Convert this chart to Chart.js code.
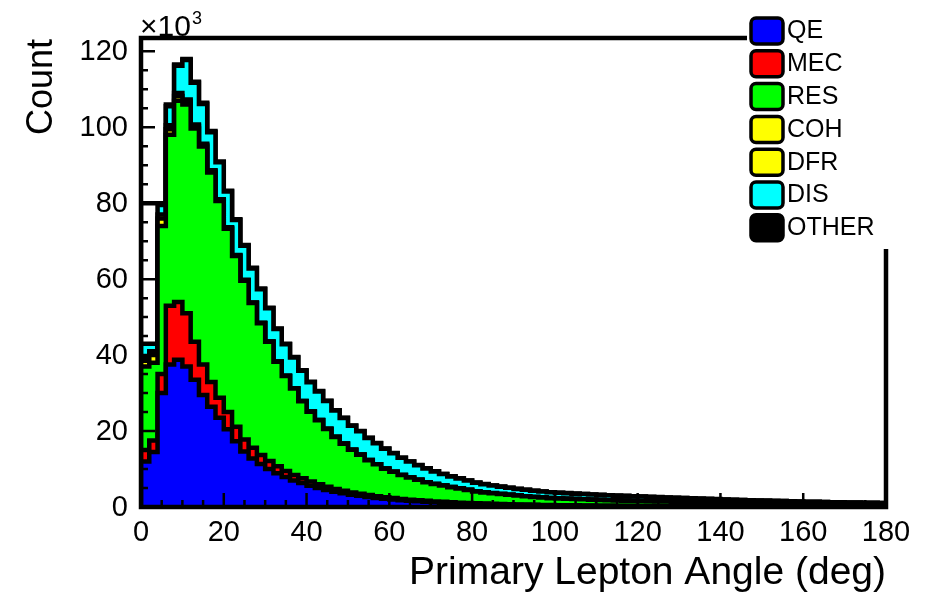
<!DOCTYPE html>
<html>
<head>
<meta charset="utf-8">
<script src="https://cdn.jsdelivr.net/npm/chart.js@4.4.1/dist/chart.umd.min.js"></script>
<style>
  html, body { margin: 0; padding: 0; background: #fff; }
  #wrap { width: 928px; height: 593px; }
</style>
</head>
<body>
<div id="wrap"><canvas id="angleChart" width="928" height="593"></canvas></div>
<script>
// histogram: 90 bins of 2 deg from 0 to 180, counts in units of 10^3
const binWidth = 2;
const xTicks = [0, 20, 40, 60, 80, 100, 120, 140, 160, 180];
const yTicks = [0, 20, 40, 60, 80, 100, 120];
const categories = ['QE', 'MEC', 'RES', 'COH', 'DFR', 'DIS', 'OTHER'];

const qe = [12, 14.5, 30, 37.5, 38.8, 37, 33.5, 29.5, 26.4, 23.5,
  20.5, 17.3, 14.6, 12.8, 11.3, 10, 8.9, 7.9, 7.0, 6.3,
  5.6, 5.0, 4.5, 4.0, 3.6, 3.25, 2.95, 2.65, 2.4, 2.2,
  2.0, 1.8, 1.65, 1.5, 1.38, 1.26, 1.15, 1.05, 0.97, 0.9,
  0.83, 0.77, 0.72, 0.67, 0.62, 0.58, 0.54, 0.5, 0.47, 0.44,
  0.41, 0.39, 0.37, 0.35, 0.33, 0.31, 0.3, 0.28, 0.27, 0.26,
  0.25, 0.24, 0.23, 0.22, 0.21, 0.2, 0.2, 0.19, 0.18, 0.18,
  0.17, 0.17, 0.16, 0.16, 0.15, 0.15, 0.14, 0.14, 0.14, 0.13,
  0.13, 0.13, 0.12, 0.12, 0.12, 0.11, 0.11, 0.11, 0.1, 0.1];

const mec = [3, 3, 5, 15.5, 15.2, 14, 10, 8, 6.5, 5.3,
  4.5, 3.8, 3.2, 2.8, 2.4, 2.1, 1.85, 1.6, 1.4, 1.25,
  1.1, 0.97, 0.86, 0.76, 0.68, 0.6, 0.54, 0.48, 0.43, 0.39,
  0.35, 0.32, 0.29, 0.26, 0.24, 0.22, 0.2, 0.18, 0.17, 0.15,
  0.14, 0.13, 0.12, 0.11, 0.1, 0.09, 0.09, 0.08, 0.08, 0.07,
  0.07, 0.06, 0.06, 0.06, 0.05, 0.05, 0.05, 0.05, 0.04, 0.04,
  0.04, 0.04, 0.04, 0.04, 0.04, 0.04, 0.04, 0.04, 0.04, 0.04,
  0.03, 0.03, 0.03, 0.03, 0.03, 0.03, 0.03, 0.03, 0.03, 0.03,
  0.02, 0.02, 0.02, 0.02, 0.02, 0.02, 0.02, 0.02, 0.02, 0.02];

const res = [22, 20.5, 39, 45, 53, 55, 56.2, 57.4, 55.2, 51.8,
  48.3, 45, 41.8, 38.1, 34.7, 31.4, 27.5, 25, 22.8, 20.3,
  18.4, 16.9, 15.2, 13.7, 12.4, 11.2, 10.3, 9.2, 8.4, 7.5,
  6.9, 6.3, 5.8, 5.4, 4.9, 4.56, 4.3, 4.0, 3.75, 3.45,
  3.1, 2.95, 2.8, 2.65, 2.5, 2.35, 2.2, 2.05, 1.92, 1.82,
  1.75, 1.7, 1.65, 1.6, 1.55, 1.5, 1.45, 1.4, 1.36, 1.32,
  1.28, 1.24, 1.2, 1.16, 1.12, 1.08, 1.04, 1.0, 0.97, 0.94,
  0.91, 0.88, 0.85, 0.82, 0.79, 0.76, 0.74, 0.72, 0.7, 0.68,
  0.66, 0.64, 0.62, 0.6, 0.58, 0.56, 0.54, 0.52, 0.5, 0.48];

const coh = [1.5, 2, 2, 1.5, 1.2, 0.8, 0.6, 0.45, 0.35, 0.25,
  0.2, 0.15, 0.12, 0.1, 0.08, 0.06, 0.05, 0.04, 0.03, 0.03,
  0.02, 0.02, 0.02, 0.02, 0.02, 0.02, 0.02, 0.02, 0.02, 0.02,
  0.01, 0.01, 0.01, 0.01, 0.01, 0.01, 0.01, 0.01, 0.01, 0.01,
  0.01, 0.01, 0.01, 0.01, 0.01, 0.01, 0.01, 0.01, 0.01, 0.01,
  0.01, 0.01, 0.01, 0.01, 0.01, 0.01, 0.01, 0.01, 0.01, 0.01,
  0.01, 0.01, 0.01, 0.01, 0.01, 0.01, 0.01, 0.01, 0.01, 0.01,
  0.01, 0.01, 0.01, 0.01, 0.01, 0.01, 0.01, 0.01, 0.01, 0.01,
  0.01, 0.01, 0.01, 0.01, 0.01, 0.01, 0.01, 0.01, 0.01, 0.01];

const dfr = [1, 1, 1, 1, 0.8, 0.5, 0.4, 0.3, 0.25, 0.2,
  0.15, 0.12, 0.1, 0.08, 0.06, 0.05, 0.04, 0.03, 0.03, 0.02,
  0.02, 0.02, 0.02, 0.02, 0.02, 0.02, 0.02, 0.02, 0.02, 0.02,
  0.01, 0.01, 0.01, 0.01, 0.01, 0.01, 0.01, 0.01, 0.01, 0.01,
  0.01, 0.01, 0.01, 0.01, 0.01, 0.01, 0.01, 0.01, 0.01, 0.01,
  0.01, 0.01, 0.01, 0.01, 0.01, 0.01, 0.01, 0.01, 0.01, 0.01,
  0.01, 0.01, 0.01, 0.01, 0.01, 0.01, 0.01, 0.01, 0.01, 0.01,
  0.01, 0.01, 0.01, 0.01, 0.01, 0.01, 0.01, 0.01, 0.01, 0.01,
  0.01, 0.01, 0.01, 0.01, 0.01, 0.01, 0.01, 0.01, 0.01, 0.01];

const dis = [3.5, 2, 2.5, 5, 7.2, 10.4, 11, 10.5, 10, 9.7,
  9.4, 9.2, 9, 8.9, 8.8, 8.7, 8.5, 8.3, 8.1, 8.0,
  7.7, 7.5, 7.3, 6.9, 6.7, 6.3, 6.1, 5.8, 5.5, 5.2,
  4.9, 4.5, 4.2, 3.8, 3.6, 3.3, 3.0, 2.8, 2.6, 2.45,
  2.3, 2.15, 2.0, 1.9, 1.8, 1.72, 1.66, 1.61, 1.57, 1.53,
  1.5, 1.46, 1.42, 1.38, 1.34, 1.3, 1.27, 1.24, 1.21, 1.18,
  1.15, 1.12, 1.09, 1.06, 1.03, 1.0, 0.97, 0.94, 0.91, 0.88,
  0.85, 0.82, 0.79, 0.76, 0.73, 0.7, 0.67, 0.64, 0.61, 0.58,
  0.56, 0.54, 0.52, 0.5, 0.49, 0.48, 0.47, 0.46, 0.45, 0.44];

const other = [37, 37, 0.5, 0.5, 0.3, 0.3, 0.3, 0.3, 0.28, 0.26,
  0.24, 0.22, 0.2, 0.19, 0.18, 0.17, 0.16, 0.15, 0.14, 0.13,
  0.12, 0.11, 0.1, 0.1, 0.09, 0.09, 0.08, 0.08, 0.07, 0.07,
  0.06, 0.06, 0.05, 0.05, 0.05, 0.04, 0.04, 0.04, 0.04, 0.03,
  0.03, 0.03, 0.03, 0.03, 0.03, 0.03, 0.03, 0.03, 0.03, 0.03,
  0.03, 0.03, 0.03, 0.03, 0.03, 0.03, 0.03, 0.03, 0.03, 0.03,
  0.03, 0.03, 0.03, 0.03, 0.03, 0.03, 0.03, 0.03, 0.03, 0.03,
  0.02, 0.02, 0.02, 0.02, 0.02, 0.02, 0.02, 0.02, 0.02, 0.02,
  0.02, 0.02, 0.02, 0.02, 0.02, 0.02, 0.02, 0.02, 0.02, 0.02];

const fillColors = ['#0000ff', '#ff0000', '#00ff00', '#ffff00', '#ffff00', '#00ffff', '#000000'];
const series = [qe, mec, res, coh, dfr, dis, other];

// running sum, so each layer is drawn as the top of everything below it
const stackTops = [];
let running = qe.map(() => 0);
series.forEach((s) => {
  running = running.map((v, i) => v + s[i]);
  stackTops.push(running);
});

// step outline like a ROOT histogram: up at 0, across every bin, down at 180
const stepPoints = (tops) => {
  const pts = [{ x: 0, y: 0 }];
  tops.forEach((v, i) => pts.push({ x: i * binWidth, y: v }));
  pts.push({ x: tops.length * binWidth, y: tops[tops.length - 1] });
  pts.push({ x: tops.length * binWidth, y: 0 });
  return pts;
};

const FONT = '"Liberation Sans", Arial, Helvetica, sans-serif';

const rootFrame = {
  id: 'rootFrame',
  afterDraw(chart) {
    const { ctx, chartArea: a, scales } = chart;
    const xs = scales.x;
    const ys = scales.y;
    ctx.save();
    ctx.strokeStyle = '#000';
    ctx.fillStyle = '#000';

    // ticks inside the frame
    ctx.lineWidth = 2.5;
    ctx.beginPath();
    for (let v = 0; v <= ys.max; v += 5) {
      const py = ys.getPixelForValue(v);
      const len = v % 20 === 0 ? 14 : 7;
      ctx.moveTo(a.left, py);
      ctx.lineTo(a.left + len, py);
    }
    for (let v = 0; v <= 180; v += 5) {
      const px = xs.getPixelForValue(v);
      const len = v % 20 === 0 ? 14 : 7;
      ctx.moveTo(px, a.bottom);
      ctx.lineTo(px, a.bottom - len);
    }
    ctx.stroke();

    // frame
    ctx.lineWidth = 4.5;
    ctx.lineCap = 'square';
    ctx.beginPath();
    ctx.moveTo(a.right, a.top);
    ctx.lineTo(a.left, a.top);
    ctx.lineTo(a.left, a.bottom);
    ctx.lineTo(a.right, a.bottom);
    ctx.lineTo(a.right, a.top);
    ctx.stroke();

    // tick labels
    ctx.font = '29px ' + FONT;
    ctx.textAlign = 'right';
    ctx.textBaseline = 'middle';
    yTicks.forEach((v) => ctx.fillText(String(v), a.left - 13, ys.getPixelForValue(v) + 1));
    ctx.textAlign = 'center';
    ctx.textBaseline = 'top';
    xTicks.forEach((v) => ctx.fillText(String(v), xs.getPixelForValue(v), a.bottom + 11));

    // axis titles
    ctx.font = '39px ' + FONT;
    ctx.textAlign = 'right';
    ctx.textBaseline = 'alphabetic';
    ctx.fillText('Primary Lepton Angle (deg)', a.right, 584);
    ctx.font = '36px ' + FONT;
    ctx.save();
    ctx.translate(52, 39);
    ctx.rotate(-Math.PI / 2);
    ctx.fillText('Count', 0, 0);
    ctx.restore();

    // exponent
    ctx.textAlign = 'left';
    ctx.font = '30px ' + FONT;
    ctx.fillText('\u00d710', a.left - 1, 36);
    const w = ctx.measureText('\u00d710').width;
    ctx.font = '18px ' + FONT;
    ctx.fillText('3', a.left + w, 24);

    // legend, white box without border over the frame corner
    ctx.fillStyle = '#fff';
    ctx.fillRect(747, 8, 160, 241);
    ctx.textBaseline = 'middle';
    ctx.font = '25px ' + FONT;
    categories.forEach((name, k) => {
      const cy = 30.5 + k * 32.8;
      ctx.beginPath();
      ctx.roundRect(751, cy - 12.5, 32, 26, 5);
      ctx.fillStyle = fillColors[k];
      ctx.fill();
      ctx.lineWidth = 3.5;
      ctx.strokeStyle = '#000';
      ctx.stroke();
      ctx.fillStyle = '#000';
      ctx.fillText(name, 787, cy + 1);
    });
    ctx.restore();
  }
};

const ctx = document.getElementById('angleChart').getContext('2d');
new Chart(ctx, {
  type: 'line',
  data: {
    datasets: categories.map((name, k) => ({
      label: name,
      data: stepPoints(stackTops[k]),
      stepped: 'before',
      fill: name === 'OTHER' ? false : 'origin',
      backgroundColor: fillColors[k],
      borderColor: '#000',
      borderWidth: 4.5,
      borderJoinStyle: 'miter',
      borderCapStyle: 'butt',
      pointRadius: 0,
      tension: 0,
    })),
  },
  options: {
    responsive: false,
    animation: false,
    layout: { padding: { left: 141, right: 42, top: 38, bottom: 86 } },
    scales: {
      x: { type: 'linear', min: 0, max: 180, display: false },
      y: { min: 0, max: 123.5, display: false },
    },
    plugins: {
      legend: { display: false },
      tooltip: { enabled: false },
    },
  },
  plugins: [rootFrame],
});
</script>
</body>
</html>
